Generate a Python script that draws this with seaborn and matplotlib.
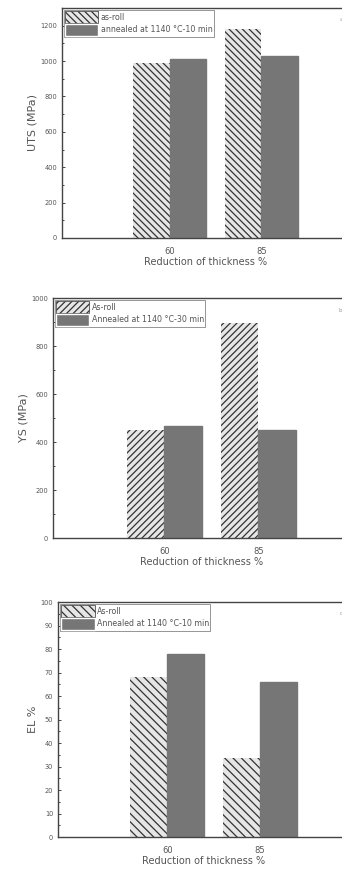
import pandas as pd
import matplotlib
matplotlib.use("Agg")
import matplotlib.pyplot as plt
from matplotlib.ticker import MultipleLocator
import seaborn as sns

# Data
reductions = ["60", "85"]
uts_as_roll = [990, 1183]
uts_annealed = [1010, 1030]
ys_as_roll = [450, 896]
ys_annealed = [467, 450]
el_as_roll = [68, 33.5]
el_annealed = [78, 66]

label_roll_a = "as-roll"
label_ann_a = "annealed at 1140 °C-10 min"
label_roll = "As-roll"
label_ann_b = "Annealed at 1140 °C-30 min"
label_ann_c = "Annealed at 1140 °C-10 min"

sns.set_style("white")
plt.rcParams['font.family'] = ['DejaVu Sans']
plt.rcParams['hatch.linewidth'] = 0.9
plt.rcParams['hatch.color'] = '#333333'

text_col = "#555555"
ann_col = "#767676"
roll_col = "#e6e6e6"


def make_df(roll, ann, roll_lab, ann_lab):
    return pd.DataFrame({
        "reduction": reductions * 2,
        "value": roll + ann,
        "state": [roll_lab] * len(roll) + [ann_lab] * len(ann),
    })


def panel(fig, rect, df, roll_lab, ann_lab, hatch, ylabel, ymax, major, minor, letter):
    ax = fig.add_axes(rect)
    sns.barplot(data=df, x="reduction", y="value", hue="state",
                hue_order=[roll_lab, ann_lab],
                palette=[roll_col, ann_col], width=0.8, ax=ax, saturation=1)
    #as-roll bars get the hatch
    for p in ax.containers[0]:
        p.set_hatch(hatch)
        p.set_edgecolor("#333333")
        p.set_linewidth(0)
    for p in ax.containers[1]:
        p.set_edgecolor(ann_col)
    ax.set_xlim(-1.18, 1.97)
    ax.set_ylim(0, ymax)
    ax.yaxis.set_major_locator(MultipleLocator(major))
    ax.yaxis.set_minor_locator(MultipleLocator(minor))
    ax.tick_params(axis="y", which="both", direction="in", left=True,
                   labelsize=4.8, labelcolor=text_col, length=2.5, width=0.6)
    ax.tick_params(axis="y", which="minor", length=1.5)
    ax.tick_params(axis="x", labelsize=6, labelcolor=text_col, bottom=False, pad=3)
    for s in ax.spines.values():
        s.set_color("#444444")
        s.set_linewidth(1.0)
    ax.set_xlabel("Reduction of thickness %", fontsize=7, color=text_col, labelpad=1)
    ax.set_ylabel(ylabel, fontsize=8, color=text_col, labelpad=2)
    leg = ax.legend(loc="upper left", fontsize=5.7, frameon=True, fancybox=False,
                    borderaxespad=0.25, handlelength=4.2, handleheight=2.0,
                    handletextpad=0.3, borderpad=0.15, labelspacing=0.05)
    leg.get_frame().set_edgecolor("#666666")
    leg.get_frame().set_linewidth(0.6)
    handles = leg.legend_handles
    handles[0].set_hatch(hatch)
    handles[0].set_edgecolor("#333333")
    handles[0].set_facecolor(roll_col)
    handles[0].set_linewidth(0.5)
    handles[1].set_facecolor(ann_col)
    for t in leg.get_texts():
        t.set_color(text_col)
    ax.text(0.975, 0.96, letter, transform=ax.transAxes, fontsize=4,
            color="#999999", ha="right", va="top")
    return ax


fig = plt.figure(figsize=(3.42, 8.73), dpi=100)

panel(fig, [0.181, 0.7274, 0.842, 0.2635],
      make_df(uts_as_roll, uts_annealed, label_roll_a, label_ann_a),
      label_roll_a, label_ann_a, "\\\\\\\\\\", "UTS (MPa)", 1300, 200, 100, "a")
panel(fig, [0.155, 0.3837, 0.868, 0.2749],
      make_df(ys_as_roll, ys_annealed, label_roll, label_ann_b),
      label_roll, label_ann_b, "/////", "YS (MPa)", 1000, 200, 100, "b")
panel(fig, [0.170, 0.0412, 0.853, 0.2692],
      make_df(el_as_roll, el_annealed, label_roll, label_ann_c),
      label_roll, label_ann_c, "\\\\\\\\", "EL %", 100, 10, 5, "c")

fig.savefig("out.png", dpi=100)
